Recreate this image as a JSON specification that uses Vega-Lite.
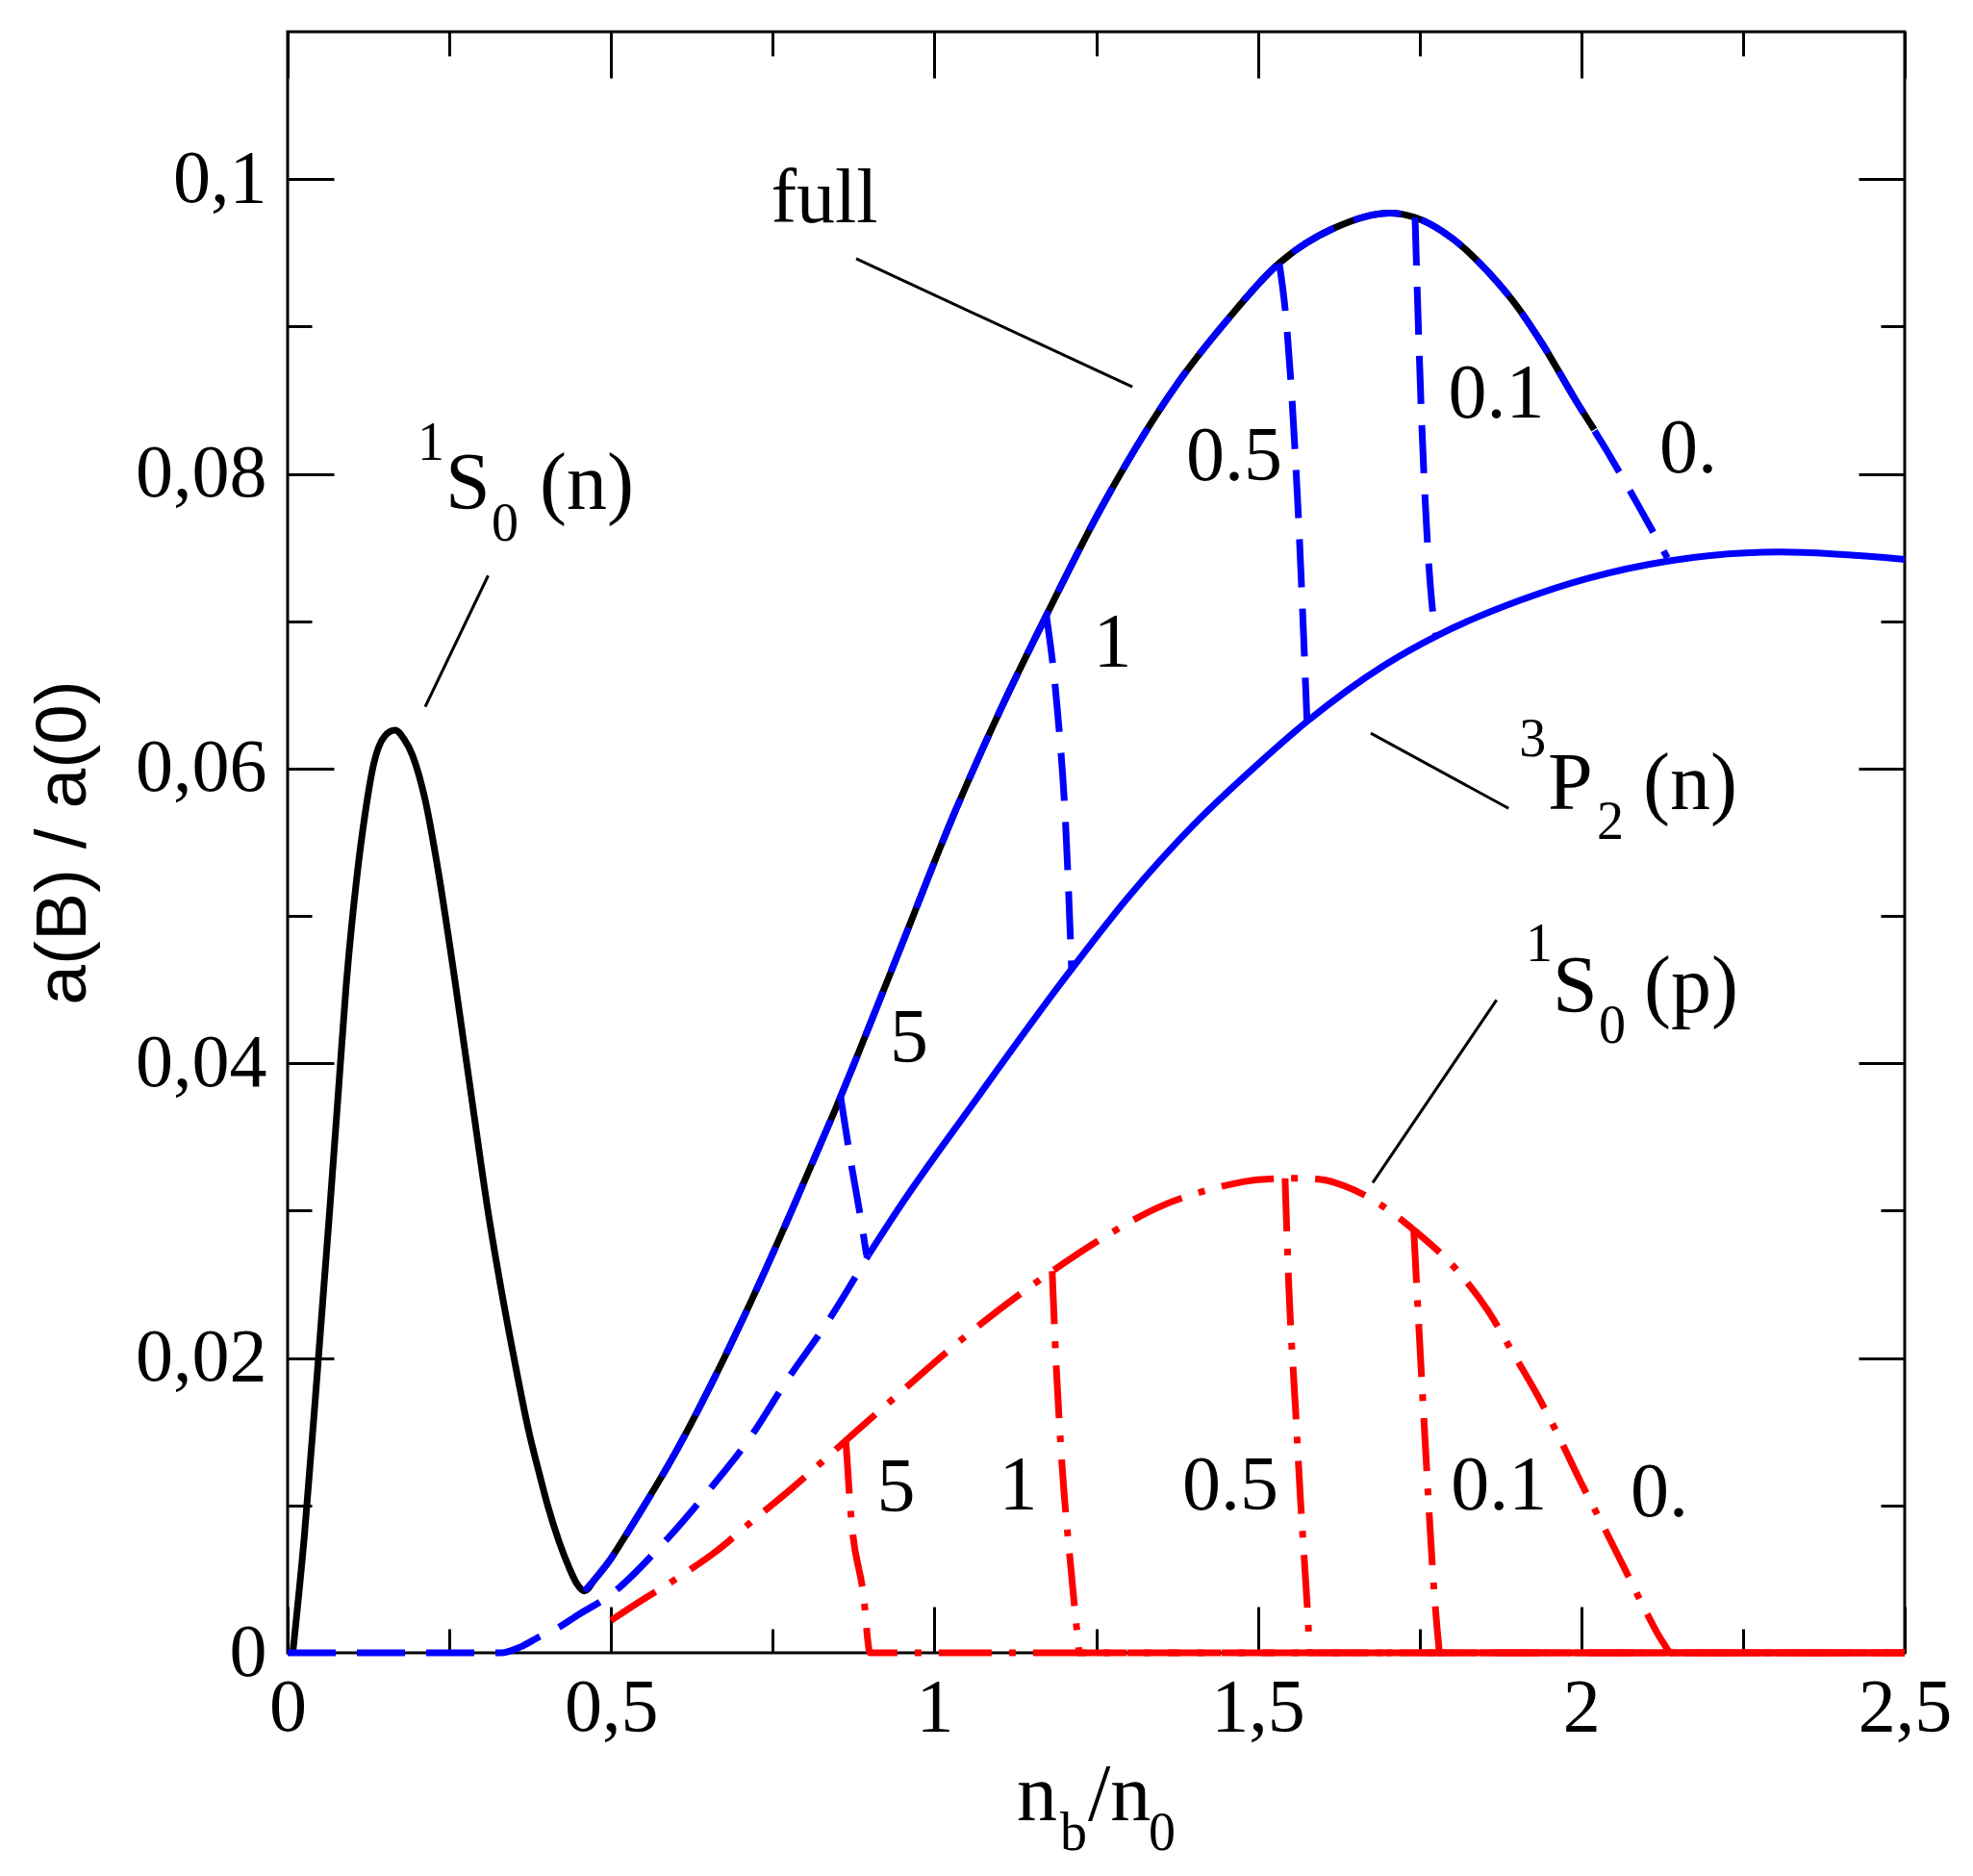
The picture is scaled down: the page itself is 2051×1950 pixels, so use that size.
{
  "$schema": "https://vega.github.io/schema/vega-lite/v6.json",
  "width": 1681,
  "height": 1685,
  "autosize": {"type": "none"},
  "padding": {"left": 299, "top": 33, "right": 71, "bottom": 232},
  "background": "white",
  "config": {
    "view": {"stroke": "black", "strokeWidth": 3},
    "axis": {
      "grid": false, "domain": false,
      "tickColor": "black", "tickWidth": 3,
      "labelColor": "black", "labelFont": "Liberation Serif", "labelFontSize": 78,
      "labelFlush": false, "labelOverlap": false, "labelBound": false,
      "titleColor": "black"
    }
  },
  "resolve": {"axis": {"x": "independent", "y": "independent"}},
  "datasets": {
    "full": [
      {"x":0.008,"y":0},{"x":0.026,"y":0.008},{"x":0.045,"y":0.0185},{"x":0.065,"y":0.030},{"x":0.08,"y":0.039},{"x":0.09,"y":0.045},{"x":0.1064,"y":0.0524},{"x":0.12,"y":0.057},{"x":0.133,"y":0.0603},{"x":0.15,"y":0.0622},{"x":0.166,"y":0.0626},{"x":0.18,"y":0.062},{"x":0.193,"y":0.0609},{"x":0.213,"y":0.0578},{"x":0.233,"y":0.053},{"x":0.259,"y":0.0455},{"x":0.2856,"y":0.0373},{"x":0.31,"y":0.0299},{"x":0.33,"y":0.0247},{"x":0.35,"y":0.0200},{"x":0.373,"y":0.015},{"x":0.39,"y":0.012},{"x":0.402,"y":0.0100},{"x":0.42,"y":0.0075},{"x":0.435,"y":0.0058},{"x":0.447,"y":0.0047},{"x":0.459,"y":0.0042},{"x":0.475,"y":0.005},{"x":0.5,"y":0.0064},{"x":0.516,"y":0.0075},{"x":0.55,"y":0.0099},{"x":0.601,"y":0.0137},{"x":0.658,"y":0.0185},{"x":0.744,"y":0.0265},{"x":0.795,"y":0.0316},{"x":0.846,"y":0.0368},{"x":0.94,"y":0.047},{"x":1.031,"y":0.057},{"x":1.1,"y":0.0638},{"x":1.173,"y":0.0704},{"x":1.258,"y":0.0777},{"x":1.372,"y":0.0859},{"x":1.45,"y":0.0903},{"x":1.533,"y":0.0943},{"x":1.619,"y":0.0967},{"x":1.704,"y":0.0977},{"x":1.743,"y":0.0974},{"x":1.8,"y":0.096},{"x":1.856,"y":0.0937},{"x":1.9,"y":0.0914},{"x":1.94,"y":0.0888},{"x":1.994,"y":0.0848},{"x":2.02,"y":0.083}
    ],
    "lowerDash": [
      {"x":0,"y":0},{"x":0.33,"y":0},{"x":0.36,"y":0.0004},{"x":0.39,"y":0.0011},{"x":0.41,"y":0.0015},{"x":0.45,"y":0.0026},{"x":0.498,"y":0.0039},{"x":0.578,"y":0.0073},{"x":0.647,"y":0.0108},{"x":0.715,"y":0.0146},{"x":0.772,"y":0.0185},{"x":0.834,"y":0.0224},{"x":0.898,"y":0.027}
    ],
    "lowerSolid": [
      {"x":0.898,"y":0.027},{"x":0.95,"y":0.0305},{"x":1.057,"y":0.0371},{"x":1.2,"y":0.0457},{"x":1.3,"y":0.0513},{"x":1.401,"y":0.0562},{"x":1.5,"y":0.0603},{"x":1.576,"y":0.0632},{"x":1.695,"y":0.067},{"x":1.776,"y":0.069},{"x":1.904,"y":0.0714},{"x":2.009,"y":0.0729},{"x":2.136,"y":0.0741},{"x":2.307,"y":0.0747},{"x":2.5,"y":0.0742}
    ],
    "p3B": [
      {"B":"0","x":0.459,"y":0.0042},{"B":"0","x":0.475,"y":0.005},{"B":"0","x":0.5,"y":0.0064},{"B":"0","x":0.516,"y":0.0075},{"B":"0","x":0.55,"y":0.0099},{"B":"0","x":0.601,"y":0.0137},{"B":"0","x":0.658,"y":0.0185},{"B":"0","x":0.744,"y":0.0265},{"B":"0","x":0.795,"y":0.0316},{"B":"0","x":0.846,"y":0.0368},{"B":"0","x":0.94,"y":0.047},{"B":"0","x":1.031,"y":0.057},{"B":"0","x":1.1,"y":0.0638},{"B":"0","x":1.173,"y":0.0704},{"B":"0","x":1.258,"y":0.0777},{"B":"0","x":1.372,"y":0.0859},{"B":"0","x":1.45,"y":0.0903},{"B":"0","x":1.533,"y":0.0943},{"B":"0","x":1.619,"y":0.0967},{"B":"0","x":1.704,"y":0.0977},{"B":"0","x":1.743,"y":0.0974},{"B":"0","x":1.8,"y":0.096},{"B":"0","x":1.856,"y":0.0937},{"B":"0","x":1.9,"y":0.0914},{"B":"0","x":1.94,"y":0.0888},{"B":"0","x":1.994,"y":0.0848},{"B":"0","x":2.039,"y":0.0816},{"B":"0","x":2.094,"y":0.0774},{"B":"0","x":2.133,"y":0.0743},
      {"B":"5","x":0.855,"y":0.0377},{"B":"5","x":0.872,"y":0.033},{"B":"5","x":0.884,"y":0.03},{"B":"5","x":0.895,"y":0.027},
      {"B":"1","x":1.173,"y":0.0704},{"B":"1","x":1.19,"y":0.064},{"B":"1","x":1.203,"y":0.056},{"B":"1","x":1.212,"y":0.0464},
      {"B":"0.5","x":1.533,"y":0.0943},{"B":"0.5","x":1.543,"y":0.0908},{"B":"0.5","x":1.562,"y":0.0777},{"B":"0.5","x":1.576,"y":0.0632},
      {"B":"0.1","x":1.743,"y":0.0974},{"B":"0.1","x":1.752,"y":0.085},{"B":"0.1","x":1.771,"y":0.0704},{"B":"0.1","x":1.776,"y":0.069}
    ],
    "s0p": [
      {"B":"0","x":0.5,"y":0.0022},{"B":"0","x":0.538,"y":0.0033},{"B":"0","x":0.6,"y":0.005},{"B":"0","x":0.663,"y":0.0069},{"B":"0","x":0.72,"y":0.009},{"B":"0","x":0.778,"y":0.0111},{"B":"0","x":0.863,"y":0.0144},{"B":"0","x":0.943,"y":0.0175},{"B":"0","x":1.057,"y":0.0218},{"B":"0","x":1.182,"y":0.0259},{"B":"0","x":1.262,"y":0.0282},{"B":"0","x":1.35,"y":0.0303},{"B":"0","x":1.414,"y":0.0313},{"B":"0","x":1.449,"y":0.0317},{"B":"0","x":1.5,"y":0.0321},{"B":"0","x":1.56,"y":0.0322},{"B":"0","x":1.6,"y":0.0321},{"B":"0","x":1.633,"y":0.0317},{"B":"0","x":1.7,"y":0.0301},{"B":"0","x":1.741,"y":0.0287},{"B":"0","x":1.811,"y":0.0258},{"B":"0","x":1.856,"y":0.0232},{"B":"0","x":1.895,"y":0.0203},{"B":"0","x":1.932,"y":0.0175},{"B":"0","x":1.965,"y":0.0147},{"B":"0","x":1.999,"y":0.0116},{"B":"0","x":2.034,"y":0.0086},{"B":"0","x":2.066,"y":0.0058},{"B":"0","x":2.1,"y":0.0028},{"B":"0","x":2.125,"y":0.0008},{"B":"0","x":2.14,"y":0},{"B":"0","x":2.5,"y":0},
      {"B":"5","x":0.863,"y":0.0144},{"B":"5","x":0.871,"y":0.0093},{"B":"5","x":0.892,"y":0.0032},{"B":"5","x":0.897,"y":0.0008},{"B":"5","x":0.9,"y":0},{"B":"5","x":2.5,"y":0},
      {"B":"1","x":1.182,"y":0.0259},{"B":"1","x":1.188,"y":0.0197},{"B":"1","x":1.197,"y":0.0129},{"B":"1","x":1.211,"y":0.0057},{"B":"1","x":1.222,"y":0.0008},{"B":"1","x":1.224,"y":0},{"B":"1","x":2.5,"y":0},
      {"B":"0.5","x":1.542,"y":0.0322},{"B":"0.5","x":1.548,"y":0.0247},{"B":"0.5","x":1.558,"y":0.0167},{"B":"0.5","x":1.566,"y":0.0103},{"B":"0.5","x":1.578,"y":0.0018},{"B":"0.5","x":1.58,"y":0},{"B":"0.5","x":2.5,"y":0},
      {"B":"0.1","x":1.741,"y":0.0287},{"B":"0.1","x":1.756,"y":0.0164},{"B":"0.1","x":1.774,"y":0.0033},{"B":"0.1","x":1.779,"y":0.0008},{"B":"0.1","x":1.781,"y":0},{"B":"0.1","x":2.5,"y":0}
    ],
    "leaders": [
      {"x":0.879,"y":0.0946,"x2":1.306,"y2":0.0859},
      {"x":0.31,"y":0.0731,"x2":0.2127,"y2":0.0642},
      {"x":1.6746,"y":0.0624,"x2":1.8876,"y2":0.0573},
      {"x":1.869,"y":0.0443,"x2":1.6776,"y2":0.0319}
    ],
    "mainText": [
      {"t":"S","x":0.2439,"y":0.07765},
      {"t":"(n)","x":0.3897,"y":0.07765},
      {"t":"P","x":1.9483,"y":0.05725},
      {"t":"(n)","x":2.0955,"y":0.05725},
      {"t":"S","x":1.9557,"y":0.04346},
      {"t":"(p)","x":2.097,"y":0.04346},
      {"t":"n","x":1.1273,"y":-0.01137},
      {"t":"/n","x":1.2374,"y":-0.01137}
    ],
    "scriptText": [
      {"t":"1","x":0.2008,"y":0.08098},
      {"t":"0","x":0.3153,"y":0.07549},
      {"t":"3","x":1.904,"y":0.06085},
      {"t":"2","x":2.0241,"y":0.05523},
      {"t":"1","x":1.914,"y":0.04693},
      {"t":"0","x":2.027,"y":0.04137},
      {"t":"b","x":1.1942,"y":-0.0134},
      {"t":"0","x":1.3311,"y":-0.0134}
    ],
    "numText": [
      {"t":"full","x":0.8299,"y":0.0971},
      {"t":"0.5","x":1.4634,"y":0.0796},
      {"t":"0.1","x":1.8686,"y":0.0838},
      {"t":"1","x":1.2753,"y":0.0669},
      {"t":"0.","x":2.1654,"y":0.0801},
      {"t":"5","x":0.9607,"y":0.0401},
      {"t":"5","x":0.9407,"y":0.0096},
      {"t":"1","x":1.1295,"y":0.0097},
      {"t":"0.5","x":1.4575,"y":0.0097},
      {"t":"0.1","x":1.8727,"y":0.0097},
      {"t":"0.","x":2.1207,"y":0.0093}
    ]
  },
  "layer": [
    {
      "data": {"name": "full"},
      "mark": {"type": "line", "color": "black", "strokeWidth": 7, "interpolate": "monotone"},
      "encoding": {
        "x": {"field": "x", "type": "quantitative", "scale": {"domain": [0, 2.5], "nice": false, "zero": false},
          "axis": {"orient": "bottom", "values": [0, 0.5, 1, 1.5, 2, 2.5], "tickSize": -48, "labelPadding": 66, "labelExpr": "replace(format(datum.value, '~g'), '.', ',')", "title": null}},
        "y": {"field": "y", "type": "quantitative", "scale": {"domain": [0, 0.11], "nice": false, "zero": false},
          "axis": {"orient": "left", "values": [0, 0.02, 0.04, 0.06, 0.08, 0.1], "tickSize": -48, "labelPadding": 70, "labelExpr": "replace(format(datum.value, '~g'), '.', ',')", "title": "a(B) / a(0)", "titleFont": "Liberation Sans", "titleFontSize": 75, "titleFontWeight": "normal", "titlePadding": 36}}
      }
    },
    {
      "data": {"name": "lowerDash"},
      "mark": {"type": "line", "color": "#0000ff", "strokeWidth": 7, "strokeDash": [50, 22], "interpolate": "monotone"},
      "encoding": {
        "x": {"field": "x", "type": "quantitative", "scale": {"domain": [0, 2.5], "nice": false, "zero": false},
          "axis": {"orient": "bottom", "values": [0.25, 0.75, 1.25, 1.75, 2.25], "tickSize": -25, "labels": false, "title": null}},
        "y": {"field": "y", "type": "quantitative", "scale": {"domain": [0, 0.11], "nice": false, "zero": false},
          "axis": {"orient": "left", "values": [0.01, 0.03, 0.05, 0.07, 0.09], "tickSize": -25, "labels": false, "title": null}}
      }
    },
    {
      "data": {"name": "lowerSolid"},
      "mark": {"type": "line", "color": "#0000ff", "strokeWidth": 7, "interpolate": "monotone"},
      "encoding": {
        "x": {"field": "x", "type": "quantitative", "scale": {"domain": [0, 2.5], "nice": false, "zero": false},
          "axis": {"orient": "top", "values": [0, 0.5, 1, 1.5, 2, 2.5], "tickSize": -48, "labels": false, "title": null}},
        "y": {"field": "y", "type": "quantitative", "scale": {"domain": [0, 0.11], "nice": false, "zero": false},
          "axis": {"orient": "right", "values": [0, 0.02, 0.04, 0.06, 0.08, 0.1], "tickSize": -48, "labels": false, "title": null}}
      }
    },
    {
      "data": {"name": "p3B"},
      "mark": {"type": "line", "color": "#0000ff", "strokeWidth": 7, "strokeDash": [50, 22], "interpolate": "monotone"},
      "encoding": {
        "detail": {"field": "B", "type": "nominal"},
        "x": {"field": "x", "type": "quantitative", "scale": {"domain": [0, 2.5], "nice": false, "zero": false},
          "axis": {"orient": "top", "values": [0.25, 0.75, 1.25, 1.75, 2.25], "tickSize": -25, "labels": false, "title": null}},
        "y": {"field": "y", "type": "quantitative", "scale": {"domain": [0, 0.11], "nice": false, "zero": false},
          "axis": {"orient": "right", "values": [0.01, 0.03, 0.05, 0.07, 0.09], "tickSize": -25, "labels": false, "title": null}}
      }
    },
    {
      "data": {"name": "s0p"},
      "mark": {"type": "line", "color": "#ff0000", "strokeWidth": 7, "strokeDash": [55, 18, 7, 18], "interpolate": "monotone"},
      "encoding": {
        "detail": {"field": "B", "type": "nominal"},
        "x": {"field": "x", "type": "quantitative", "scale": {"domain": [0, 2.5], "nice": false, "zero": false}, "axis": null},
        "y": {"field": "y", "type": "quantitative", "scale": {"domain": [0, 0.11], "nice": false, "zero": false}, "axis": null}
      }
    },
    {
      "data": {"name": "leaders"},
      "mark": {"type": "rule", "color": "black", "strokeWidth": 3},
      "encoding": {
        "x": {"field": "x", "type": "quantitative", "scale": {"domain": [0, 2.5], "nice": false, "zero": false}, "axis": null},
        "y": {"field": "y", "type": "quantitative", "scale": {"domain": [0, 0.11], "nice": false, "zero": false}, "axis": null},
        "x2": {"field": "x2"},
        "y2": {"field": "y2"}
      }
    },
    {
      "data": {"name": "mainText"},
      "mark": {"type": "text", "font": "Liberation Serif", "fontSize": 84, "align": "left", "baseline": "alphabetic", "color": "black"},
      "encoding": {
        "x": {"field": "x", "type": "quantitative", "scale": {"domain": [0, 2.5], "nice": false, "zero": false}, "axis": null},
        "y": {"field": "y", "type": "quantitative", "scale": {"domain": [0, 0.11], "nice": false, "zero": false}, "axis": null},
        "text": {"field": "t"}
      }
    },
    {
      "data": {"name": "scriptText"},
      "mark": {"type": "text", "font": "Liberation Serif", "fontSize": 56, "align": "left", "baseline": "alphabetic", "color": "black"},
      "encoding": {
        "x": {"field": "x", "type": "quantitative", "scale": {"domain": [0, 2.5], "nice": false, "zero": false}, "axis": null},
        "y": {"field": "y", "type": "quantitative", "scale": {"domain": [0, 0.11], "nice": false, "zero": false}, "axis": null},
        "text": {"field": "t"}
      }
    },
    {
      "data": {"name": "numText"},
      "mark": {"type": "text", "font": "Liberation Serif", "fontSize": 80, "align": "center", "baseline": "alphabetic", "color": "black"},
      "encoding": {
        "x": {"field": "x", "type": "quantitative", "scale": {"domain": [0, 2.5], "nice": false, "zero": false}, "axis": null},
        "y": {"field": "y", "type": "quantitative", "scale": {"domain": [0, 0.11], "nice": false, "zero": false}, "axis": null},
        "text": {"field": "t"}
      }
    }
  ]
}
